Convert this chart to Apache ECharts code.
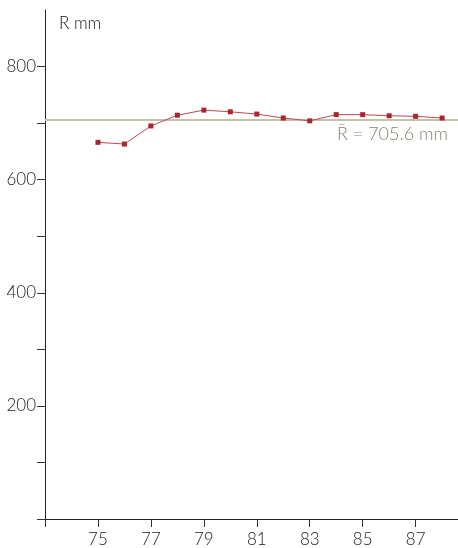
<!DOCTYPE html>
<html>
<head>
<meta charset="utf-8">
<script src="https://cdn.jsdelivr.net/npm/echarts@6/dist/echarts.min.js"></script>
<style>
  html, body { margin: 0; padding: 0; background: #fff; }
  #chart { width: 458px; height: 548px; }
</style>
</head>
<body>
<div id="chart"></div>
<script>
// Annual radius readings (year, R in mm)
const years = [75, 76, 77, 78, 79, 80, 81, 82, 83, 84, 85, 86, 87, 88];
const radius = [666, 663, 695, 714, 723, 720, 716, 709, 704, 715, 715, 713, 712, 709];
const meanR = 705.6;

const xTickValues = [73, 75, 77, 79, 81, 83, 85, 87];
const xLabelValues = [75, 77, 79, 81, 83, 85, 87];
const yTickValues = [0, 100, 200, 300, 400, 500, 600, 700, 800];
const yLabelValues = [200, 400, 600, 800];

const FONT = 'Lato, "Noto Sans", sans-serif';

const chart = echarts.init(document.getElementById('chart'), null, { renderer: 'canvas' });
chart.setOption({
  animation: false,
  backgroundColor: '#ffffff',
  title: {
    text: 'R mm',
    left: 54,
    top: 10,
    textStyle: { fontFamily: FONT, fontSize: 17, fontWeight: 300, color: '#111' }
  },
  grid: { left: 45, right: 0, top: 10, bottom: 27, containLabel: false },
  xAxis: {
    type: 'value',
    min: 73,
    max: 88.6,
    splitLine: { show: false },
    axisLine: { onZero: false, lineStyle: { color: '#222', width: 1 } },
    axisTick: { customValues: xTickValues, length: 8, lineStyle: { color: '#333' } },
    axisLabel: {
      customValues: xLabelValues,
      margin: 12,
      fontFamily: FONT, fontSize: 17, fontWeight: 300, color: '#1a1a1a'
    }
  },
  yAxis: {
    type: 'value',
    min: 0,
    max: 900,
    splitLine: { show: false },
    axisLine: { onZero: false, lineStyle: { color: '#222', width: 1 } },
    axisTick: { customValues: yTickValues, length: 8, lineStyle: { color: '#333' } },
    axisLabel: {
      customValues: yLabelValues,
      margin: 9,
      fontFamily: FONT, fontSize: 17, fontWeight: 300, color: '#1a1a1a'
    }
  },
  series: [{
    type: 'line',
    data: years.map((y, i) => [y, radius[i]]),
    symbol: 'rect',
    symbolSize: 5,
    itemStyle: { color: '#a82630' },
    lineStyle: { color: '#c0474f', width: 1 },
    z: 3,
    markLine: {
      silent: true,
      symbol: ['none', 'none'],
      lineStyle: { color: '#c5c2aa', width: 2, type: 'solid' },
      label: {
        position: 'insideEndBottom',
        distance: [10, 5],
        formatter: 'R\u0304 = ' + meanR + ' mm',
        fontFamily: FONT, fontSize: 18, fontWeight: 300, color: '#85866e'
      },
      data: [{ yAxis: meanR }],
      z: 2
    }
  }]
});
</script>
</body>
</html>
